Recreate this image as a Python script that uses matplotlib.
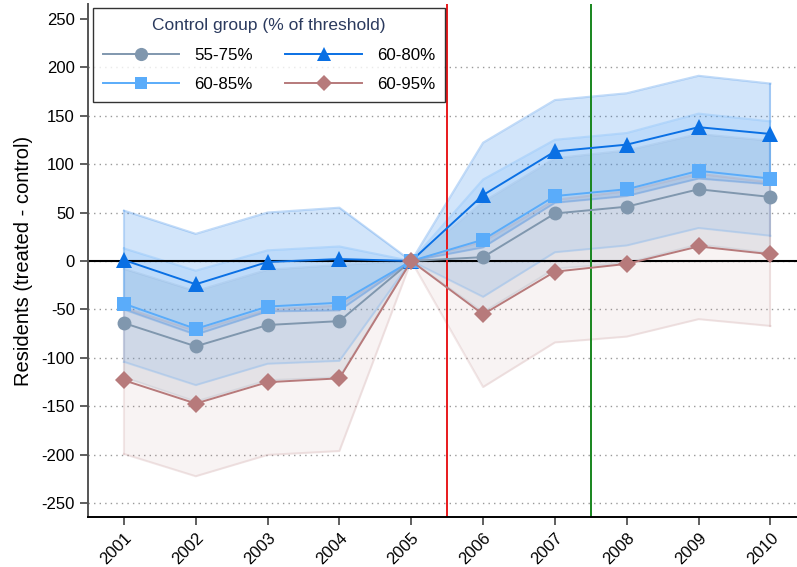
import numpy as np
import matplotlib
matplotlib.use("Agg")
import matplotlib.pyplot as plt

plt.rcParams['font.family'] = ['Liberation Sans', 'DejaVu Sans']
plt.rcParams['axes.unicode_minus'] = False

# Data
years = [2001, 2002, 2003, 2004, 2005, 2006, 2007, 2008, 2009, 2010]

g5575 = [-64, -88, -66, -62, 0, 4, 49, 56, 74, 66]
g5575_hi = [-8, -31, -9, -4, 0, 61, 106, 114, 131, 124]
g5575_lo = [-120, -145, -123, -120, 0, -53, -8, -2, 17, 8]

g6080 = [1, -24, -1, 2, 0, 68, 113, 120, 138, 131]
g6080_hi = [52, 28, 50, 55, 0, 122, 166, 173, 191, 183]
g6080_lo = [-50, -76, -52, -51, 0, 14, 60, 67, 85, 79]

g6085 = [-44, -70, -47, -43, 0, 22, 67, 74, 93, 85]
g6085_hi = [13, -10, 11, 15, 0, 84, 125, 132, 152, 144]
g6085_lo = [-104, -128, -106, -103, 0, -37, 9, 16, 34, 26]

g6095 = [-123, -147, -125, -121, 0, -55, -11, -3, 15, 7]
g6095_hi = [-48, -72, -50, -46, 0, 20, 63, 72, 90, 81]
g6095_lo = [-199, -222, -200, -196, 0, -130, -84, -78, -60, -67]

labels = ['55-75%', '60-80%', '60-85%', '60-95%']
colors = ['#8097ae', '#0a70e4', '#5aacfa', '#b77a7b']
markers = ['o', '^', 's', 'D']
msizes = [10, 11, 9.5, 9]
fill_alpha = [0.17, 0.18, 0.16, 0.09]
edge_alpha = [0.15, 0.25, 0.25, 0.18]

series = [(g5575, g5575_lo, g5575_hi),
          (g6080, g6080_lo, g6080_hi),
          (g6085, g6085_lo, g6085_hi),
          (g6095, g6095_lo, g6095_hi)]

fig = plt.figure(figsize=(7.97, 5.67), dpi=100)
ax = fig.add_axes([0.1104, 0.0882, 0.8896, 0.9047])

# confidence bands
for (v, lo, hi), c, a, ea in zip(series, colors, fill_alpha, edge_alpha):
    ax.fill_between(years, lo, hi, color=c, alpha=a, linewidth=0, zorder=1)
    ax.plot(years, lo, color=c, alpha=ea, linewidth=1.5, zorder=1)
    ax.plot(years, hi, color=c, alpha=ea, linewidth=1.5, zorder=1)
    ax.plot([years[0], years[0]], [lo[0], hi[0]], color=c, alpha=ea, linewidth=1.5, zorder=1)
    ax.plot([years[-1], years[-1]], [lo[-1], hi[-1]], color=c, alpha=ea, linewidth=1.5, zorder=1)

ax.axhline(0, color='black', linewidth=1.5, zorder=2)
ax.axvline(2005.5, color='#e8191c', linewidth=1.4, zorder=2)
ax.axvline(2007.5, color='#18861e', linewidth=1.4, zorder=2)

# point estimates
handles = {}
for (v, lo, hi), lab, c, m, ms in zip(series, labels, colors, markers, msizes):
    h, = ax.plot(years, v, color=c, marker=m, markersize=ms, linewidth=1.4,
                 markeredgewidth=0, label=lab, zorder=3)
    handles[lab] = h

ax.set_xlim(2000.5, 2010.37)
ax.set_ylim(-264, 265)
ax.set_yticks(np.arange(-250, 251, 50))
ax.set_xticks(years)
ax.set_xticklabels([str(y) for y in years], rotation=45, ha='right',
                   rotation_mode='anchor', fontsize=12)
ax.tick_params(axis='y', labelsize=12, length=6, width=1.2, color='#444444')
ax.tick_params(axis='x', length=6, width=1.2, color='#444444')
ax.set_ylabel('Residents (treated - control)', fontsize=14.5, labelpad=6)

ax.grid(axis='y', linestyle=(0, (1, 3)), color='#999999', linewidth=1)
ax.grid(axis='x', visible=False)
ax.set_axisbelow(True)
for gl, t in zip(ax.get_ygridlines(), ax.get_yticks()):
    if t == 250:
        gl.set_visible(False)

ax.spines['top'].set_visible(False)
ax.spines['right'].set_visible(False)
ax.spines['left'].set_color('#555555')
ax.spines['left'].set_linewidth(1.4)
ax.spines['bottom'].set_linewidth(1.4)

order = ['55-75%', '60-85%', '60-80%', '60-95%']
leg = ax.legend([handles[k] for k in order], order, ncol=2,
                title='Control group (% of threshold)', title_fontsize=12.5,
                fontsize=12.2, loc='upper left', bbox_to_anchor=(0.007, 0.992),
                frameon=True, fancybox=False, edgecolor='black',
                borderaxespad=0, handlelength=4.5, columnspacing=1.9,
                handletextpad=0.9, borderpad=0.6, labelspacing=0.85,
                markerscale=0.95)
leg.get_frame().set_linewidth(1.0)
leg.get_title().set_color('#2b3a5e')
leg.set_zorder(5)

fig.savefig('out.png', dpi=100)
